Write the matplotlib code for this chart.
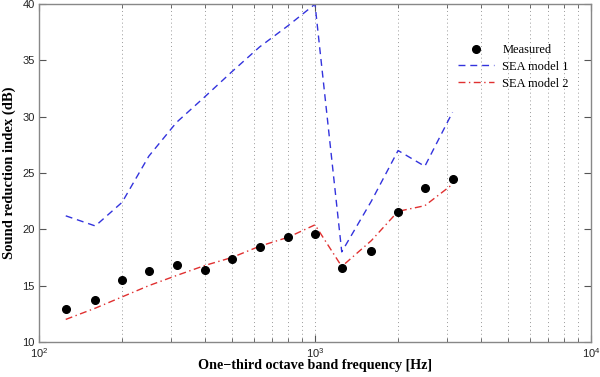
import matplotlib
matplotlib.use("Agg")
import matplotlib.pyplot as plt
from matplotlib.ticker import LogLocator, NullFormatter

freqs = [125, 160, 200, 250, 315, 400, 500, 630, 800, 1000, 1250, 1600, 2000, 2500, 3150]
measured = [12.9, 13.7, 15.5, 16.3, 16.8, 16.4, 17.4, 18.4, 19.3, 19.6, 16.6, 18.1, 21.5, 23.7, 24.5]
sea_model1 = [21.2, 20.3, 22.4, 26.5, 29.5, 31.8, 34.0, 36.2, 38.1, 40.0, 18.0, 22.5, 27.0, 25.6, 30.4]
sea_model2 = [12.0, 13.0, 14.0, 15.0, 15.9, 16.8, 17.5, 18.5, 19.3, 20.4, 16.7, 19.0, 21.6, 22.1, 24.0]

fig = plt.figure(figsize=(6, 3.77), dpi=100)
ax = fig.add_axes([0.065, 0.093, 0.92, 0.896])

ax.plot(freqs, measured, 'o', color='black', markersize=5.5, label='Measured', zorder=3)
ax.plot(freqs, sea_model1, color='#3333dd', linestyle=(0, (5, 3.5)), linewidth=1.0, label='SEA model 1')
ax.plot(freqs, sea_model2, color='#e03030', linestyle=(0, (5, 2.5, 1, 2.5)), linewidth=1.0, label='SEA model 2')

ax.set_xscale('log')
ax.set_xlim(100, 10000)
ax.set_ylim(10, 40)
ax.set_yticks([10, 15, 20, 25, 30, 35, 40])
ax.xaxis.set_minor_locator(LogLocator(base=10, subs=range(2, 10)))
ax.xaxis.set_minor_formatter(NullFormatter())

ax.grid(True, which='both', axis='x', linestyle=(0, (1, 3)), color='#999999', linewidth=0.7)
ax.tick_params(which='both', direction='in', top=True, right=True, colors='#555555',
               labelcolor='#222222', labelsize=8, pad=3)
ax.tick_params(which='major', length=5)
ax.tick_params(which='minor', length=3)
for s in ax.spines.values():
    s.set_color('#888888')
    s.set_linewidth(1.0)

for lbl in ax.get_xticklabels() + ax.get_yticklabels():
    lbl.set_family('Liberation Sans')

ax.set_xlabel('One\u2212third octave band frequency [Hz]', fontfamily='Liberation Serif',
              fontweight='bold', fontsize=10.2)
ax.set_ylabel('Sound reduction index (dB)', fontfamily='Liberation Serif',
              fontweight='bold', fontsize=10.5)
ax.xaxis.set_label_coords(0.5, -0.05)
ax.yaxis.set_label_coords(-0.042, 0.5)

leg = ax.legend(loc='upper right', bbox_to_anchor=(0.98, 0.915), frameon=False,
                prop={'family': 'Liberation Serif', 'size': 9}, handlelength=2.9,
                handletextpad=0.65, labelspacing=0.38)

fig.savefig('out.png', dpi=100)
